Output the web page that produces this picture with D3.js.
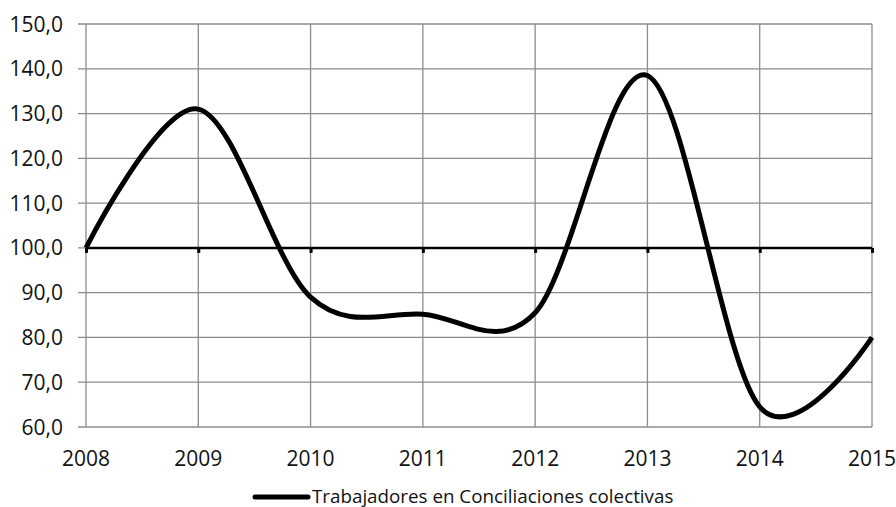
<!DOCTYPE html>
<html><head><meta charset="utf-8">
<script src="https://cdn.jsdelivr.net/npm/d3@7"></script>
<style>body{margin:0;background:#fff}svg{display:block}</style>
</head><body>
<svg id="c" width="896" height="507"></svg>
<script>
const years = [2008, 2009, 2010, 2011, 2012, 2013, 2014, 2015];
const values = [100.0, 131.0, 89.0, 85.2, 85.5, 138.5, 64.5, 80.0];
const yTicks = [60, 70, 80, 90, 100, 110, 120, 130, 140, 150];
const seriesName = "Trabajadores en Conciliaciones colectivas";

const svg = d3.select("#c");
const m = {l: 86, r: 872, t: 24, b: 427};
const x = d3.scaleLinear().domain([2008, 2015]).range([m.l, m.r]);
const y = d3.scaleLinear().domain([60, 150]).range([m.b, m.t]);
const font = "'Open Sans', sans-serif";

// grid
svg.append("g").selectAll("line").data(yTicks).join("line")
  .attr("x1", m.l - 8).attr("x2", m.r).attr("y1", d => y(d)).attr("y2", d => y(d))
  .attr("stroke", "#8c8c8c").attr("stroke-width", 1.3);
svg.append("g").selectAll("line").data(years).join("line")
  .attr("x1", d => x(d)).attr("x2", d => x(d)).attr("y1", m.t).attr("y2", m.b)
  .attr("stroke", "#8c8c8c").attr("stroke-width", 1.3);

// y labels
svg.append("g").selectAll("text").data(yTicks).join("text")
  .attr("x", 63).attr("y", d => y(d)).attr("dy", "0.36em")
  .attr("text-anchor", "end").attr("font-family", font).attr("font-size", 21)
  .attr("fill", "#111").text(d => d3.format(".1f")(d).replace(".", ","));

// x labels
svg.append("g").selectAll("text").data(years).join("text")
  .attr("x", d => x(d)).attr("y", 466)
  .attr("text-anchor", "middle").attr("font-family", font).attr("font-size", 21)
  .attr("fill", "#111").text(d => d);

// axis at 100
const ax = svg.append("g").attr("transform", `translate(0,${y(100)})`)
  .call(d3.axisBottom(x).tickValues(years).tickSize(5).tickFormat(""));
ax.select(".domain").attr("stroke", "#000").attr("stroke-width", 2.5).attr("d", `M${m.l},0H${m.r}`);
ax.selectAll(".tick line").attr("stroke", "#000").attr("stroke-width", 3);

// series line
const line = d3.line().x((d, i) => x(years[i])).y(d => y(d)).curve(d3.curveCardinal.tension(0));
svg.append("path").datum(values).attr("d", line)
  .attr("fill", "none").attr("stroke", "#000").attr("stroke-width", 5).attr("stroke-linejoin", "round");

// legend
const lg = svg.append("g");
lg.append("line").attr("x1", 255).attr("x2", 308).attr("y1", 497).attr("y2", 497)
  .attr("stroke", "#000").attr("stroke-width", 5).attr("stroke-linecap", "round");
lg.append("text").attr("x", 312).attr("y", 502.5).attr("font-family", font).attr("font-size", 18.8)
  .attr("fill", "#111").text(seriesName);
</script>
</body></html>
